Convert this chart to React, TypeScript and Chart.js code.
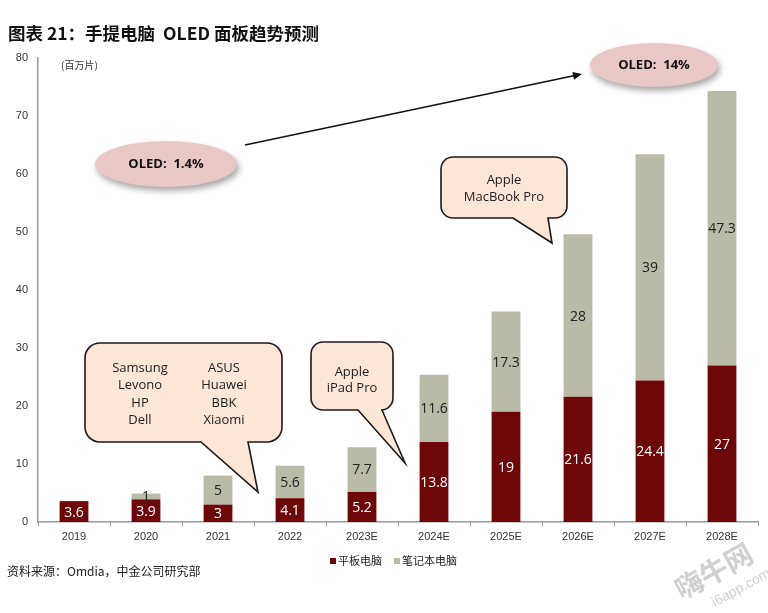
import React, { useEffect, useRef } from 'react';
import { Chart, registerables } from 'chart.js';

Chart.register(...registerables);

const categories = ['2019', '2020', '2021', '2022', '2023E', '2024E', '2025E', '2026E', '2027E', '2028E'];
const tabletValues = [3.6, 3.9, 3, 4.1, 5.2, 13.8, 19, 21.6, 24.4, 27];
const notebookValues: (number | null)[] = [null, 1, 5, 5.6, 7.7, 11.6, 17.3, 28, 39, 47.3];
const seriesNames = ['平板电脑', '笔记本电脑'];
const seriesColors = ['#6E0808', '#BABAA9'];
const labelColors = ['#FFFFFF', '#222222'];

const titleText = '图表 21：手提电脑  OLED 面板趋势预测';
const unitText = '(百万片)';
const sourceText = '资料来源：Omdia，中金公司研究部';
const oledStart = 'OLED:  1.4%';
const oledEnd = 'OLED:  14%';
const brandsLeft = ['Samsung', 'Levono', 'HP', 'Dell'];
const brandsRight = ['ASUS', 'Huawei', 'BBK', 'Xiaomi'];
const ipadText = ['Apple', 'iPad Pro'];
const macText = ['Apple', 'MacBook Pro'];

const CJK = '"Noto Sans CJK SC", "Liberation Sans", sans-serif';
const SANS = '"Liberation Sans", Arial, sans-serif';
const CAL = '"Open Sans", "Noto Sans", sans-serif';

function bubble(ctx: CanvasRenderingContext2D, x0: number, y0: number, x1: number, y1: number, r: number, t0: number, t1: number, tx: number, ty: number) {
  ctx.beginPath();
  ctx.moveTo(x0 + r, y0);
  ctx.lineTo(x1 - r, y0);
  ctx.arcTo(x1, y0, x1, y0 + r, r);
  ctx.lineTo(x1, y1 - r);
  ctx.arcTo(x1, y1, x1 - r, y1, r);
  ctx.lineTo(t1, y1);
  ctx.lineTo(tx, ty);
  ctx.lineTo(t0, y1);
  ctx.lineTo(x0 + r, y1);
  ctx.arcTo(x0, y1, x0, y1 - r, r);
  ctx.lineTo(x0, y0 + r);
  ctx.arcTo(x0, y0, x0 + r, y0, r);
  ctx.closePath();
  ctx.fillStyle = '#FBE6D8';
  ctx.fill();
  ctx.lineWidth = 1.6;
  ctx.strokeStyle = '#1a1a1a';
  ctx.stroke();
}

function ellipse(ctx: CanvasRenderingContext2D, cx: number, cy: number, rx: number, ry: number, text: string) {
  ctx.save();
  ctx.shadowColor = 'rgba(0,0,0,0.35)';
  ctx.shadowBlur = 6;
  ctx.shadowOffsetX = 2;
  ctx.shadowOffsetY = 4;
  ctx.beginPath();
  ctx.ellipse(cx, cy, rx, ry, 0, 0, Math.PI * 2);
  ctx.fillStyle = '#E8C7C7';
  ctx.fill();
  ctx.restore();
  ctx.fillStyle = '#111';
  ctx.font = `bold 13px ${CAL}`;
  ctx.textAlign = 'center';
  ctx.textBaseline = 'middle';
  ctx.fillText(text, cx, cy);
}

const decorPlugin = {
  id: 'decor',
  afterDatasetsDraw(chart: any) {
    const ctx: CanvasRenderingContext2D = chart.ctx;
    ctx.save();
    chart.data.datasets.forEach((ds: any, di: number) => {
      const meta = chart.getDatasetMeta(di);
      meta.data.forEach((el: any, i: number) => {
        const v = ds.data[i];
        if (v === null || v === undefined) return;
        const cy = (el.y + el.base) / 2;
        ctx.fillStyle = labelColors[di];
        ctx.font = `14px ${CAL}`;
        ctx.textAlign = 'center';
        ctx.textBaseline = 'middle';
        ctx.fillText(String(v), el.x, cy + 1);
      });
    });
    ctx.restore();
  },
  afterDraw(chart: any) {
    const ctx: CanvasRenderingContext2D = chart.ctx;
    ctx.save();
    ctx.fillStyle = '#111';
    ctx.font = `bold 17.5px ${CJK}`;
    ctx.textAlign = 'left';
    ctx.textBaseline = 'middle';
    ctx.fillText(titleText, 8, 33);
    ctx.font = `10px ${CJK}`;
    ctx.fillStyle = '#333';
    ctx.fillText(unitText, 61, 65);
    ctx.font = `12px ${CJK}`;
    ctx.fillStyle = '#222';
    ctx.fillText(sourceText, 7, 571);
    ctx.font = `11px ${CJK}`;
    let lx = 330;
    seriesNames.forEach((name, i) => {
      ctx.fillStyle = seriesColors[i];
      ctx.fillRect(lx, 558, 6, 6);
      ctx.fillStyle = '#222';
      ctx.fillText(name, lx + 8, 561);
      lx += 8 + ctx.measureText(name).width + 12;
    });

    bubble(ctx, 85, 343, 282, 442, 15, 201, 248, 258, 492);
    ctx.fillStyle = '#222';
    ctx.font = `13px ${CAL}`;
    ctx.textAlign = 'center';
    brandsLeft.forEach((t, i) => ctx.fillText(t, 140, 368 + i * 17.5));
    brandsRight.forEach((t, i) => ctx.fillText(t, 224, 368 + i * 17.5));

    bubble(ctx, 311, 342, 393, 410, 12, 358, 382, 405, 463);
    ctx.fillStyle = '#222';
    ipadText.forEach((t, i) => ctx.fillText(t, 352, 372 + i * 16.5));

    bubble(ctx, 441, 157, 567, 218, 12, 513, 548, 552, 243);
    ctx.fillStyle = '#222';
    macText.forEach((t, i) => ctx.fillText(t, 504, 180 + i * 17.5));

    ellipse(ctx, 166, 164, 71, 23, oledStart);
    ellipse(ctx, 654, 65, 64, 22, oledEnd);

    const ax0 = 245, ay0 = 145, ax1 = 582, ay1 = 74;
    ctx.strokeStyle = '#111';
    ctx.lineWidth = 1.6;
    ctx.beginPath();
    ctx.moveTo(ax0, ay0);
    ctx.lineTo(ax1 - 6, ay1 + 1.3);
    ctx.stroke();
    const ang = Math.atan2(ay1 - ay0, ax1 - ax0);
    ctx.beginPath();
    ctx.moveTo(ax1, ay1);
    ctx.lineTo(ax1 - 9 * Math.cos(ang) + 4 * Math.sin(ang), ay1 - 9 * Math.sin(ang) - 4 * Math.cos(ang));
    ctx.lineTo(ax1 - 9 * Math.cos(ang) - 4 * Math.sin(ang), ay1 - 9 * Math.sin(ang) + 4 * Math.cos(ang));
    ctx.closePath();
    ctx.fillStyle = '#111';
    ctx.fill();

    ctx.save();
    ctx.translate(722, 578);
    ctx.rotate(-0.5);
    ctx.fillStyle = 'rgba(150,150,150,0.45)';
    ctx.font = `bold 28px ${CJK}`;
    ctx.textAlign = 'center';
    ctx.fillText('嗨牛网', -4, -10);
    ctx.font = `14px ${SANS}`;
    ctx.fillText('i6app.com', 12, 18);
    ctx.restore();

    ctx.restore();
  },
};

export default function App() {
  const ref = useRef<HTMLCanvasElement>(null);
  useEffect(() => {
    document.body.style.margin = '0';
    const chart = new Chart(ref.current as HTMLCanvasElement, {
      type: 'bar',
      data: {
        labels: categories,
        datasets: [
          { label: seriesNames[0], data: tabletValues, backgroundColor: seriesColors[0], barPercentage: 0.4, categoryPercentage: 1 },
          { label: seriesNames[1], data: notebookValues as any, backgroundColor: seriesColors[1], barPercentage: 0.4, categoryPercentage: 1 },
        ],
      },
      options: {
        animation: false,
        responsive: false,
        layout: { padding: { top: 58, bottom: 71, left: 0, right: 10 } },
        plugins: { legend: { display: false }, tooltip: { enabled: false }, title: { display: false } },
        scales: {
          x: {
            stacked: true,
            grid: { display: true, drawOnChartArea: false, drawTicks: true, tickLength: 4, color: '#999', offset: true },
            border: { display: true, color: '#999', width: 1.5 },
            ticks: { color: '#333', font: { size: 11, family: SANS }, padding: 4, maxRotation: 0 },
            afterFit: (s: any) => { s.height = 20; },
          },
          y: {
            stacked: true,
            min: 0,
            max: 80,
            grid: { display: false, drawTicks: false },
            border: { display: true, color: '#999', width: 1.5 },
            ticks: { stepSize: 10, color: '#333', font: { size: 11, family: SANS }, padding: 10 },
            afterFit: (s: any) => { s.width = 38; },
          },
        },
      },
      plugins: [decorPlugin],
    });
    return () => chart.destroy();
  }, []);
  return (
    <div style={{ width: 768, height: 613, background: '#fff' }}>
      <canvas ref={ref} width={768} height={613} style={{ display: 'block' }} />
    </div>
  );
}
